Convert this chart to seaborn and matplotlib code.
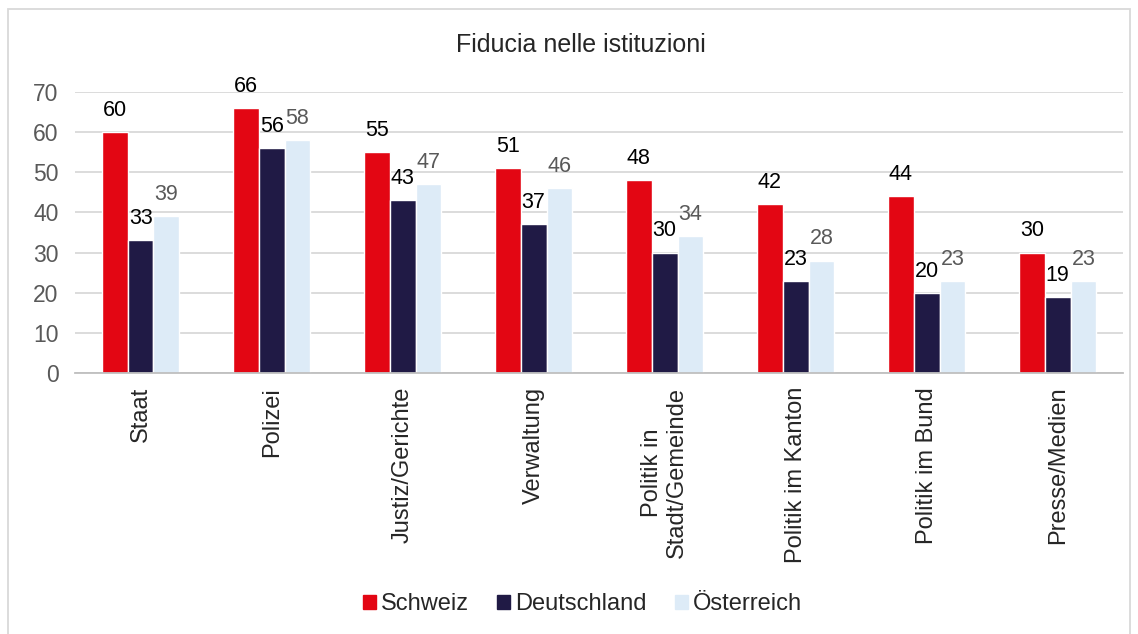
import pandas as pd
import numpy as np
import matplotlib
matplotlib.use('Agg')
import matplotlib.pyplot as plt
import seaborn as sns
from matplotlib.patches import Rectangle

# Data
categories = ['Staat', 'Polizei', 'Justiz/Gerichte', 'Verwaltung',
              'Politik in\nStadt/Gemeinde', 'Politik im Kanton',
              'Politik im Bund', 'Presse/Medien']
countries = ['Schweiz', 'Deutschland', 'Österreich']
schweiz = [60, 66, 55, 51, 48, 42, 44, 30]
deutschland = [33, 56, 43, 37, 30, 23, 20, 19]
oesterreich = [39, 58, 47, 46, 34, 28, 23, 23]

colors = ['#E30613', '#201A45', '#DDEBF7']
label_colors = ['black', 'black', '#595959']

df = pd.DataFrame({
    'Istituzione': categories * 3,
    'Paese': sum([[c] * len(categories) for c in countries], []),
    'Valore': schweiz + deutschland + oesterreich,
})

sns.set_style('white')
plt.rcParams['font.family'] = ['Liberation Sans', 'DejaVu Sans']

fig = plt.figure(figsize=(11.38, 6.34), dpi=100)
ax = fig.add_axes([0.066, 0.4117, 0.921, 0.4433])

sns.barplot(data=df, x='Istituzione', y='Valore', hue='Paese',
            palette=colors, saturation=1, width=0.59, ax=ax, legend=True)

# Data labels
for cont, col in zip(ax.containers, label_colors):
    ax.bar_label(cont, fmt='%d', padding=8, fontsize=15.5, color=col)

ax.set_ylim(0, 70)
ax.set_xlim(-0.5, len(categories) - 0.5)
ax.set_yticks(range(0, 71, 10))
ax.tick_params(axis='y', labelsize=16.5, labelcolor='#595959', length=0, pad=12)
ax.tick_params(axis='x', which='major', labelsize=17, length=0, pad=10,
               labelrotation=90)
ax.set_xticks(np.arange(-0.5, len(categories)), minor=True)
ax.tick_params(axis='x', which='minor', length=5, color='#BFBFBF', width=1.2)
ax.set_xlabel('')
ax.set_ylabel('')
ax.yaxis.grid(True, color='#D9D9D9', linewidth=1.3)
ax.set_axisbelow(True)
for s in ['top', 'right', 'left']:
    ax.spines[s].set_visible(False)
ax.spines['bottom'].set_color('#BFBFBF')
ax.spines['bottom'].set_linewidth(1.3)
for lbl in ax.get_xticklabels():
    lbl.set_va('top')
    lbl.set_ha('center')
    lbl.set_multialignment('center')

# Legend below the chart
leg = ax.get_legend()
leg.remove()
handles = [Rectangle((0, 0), 1, 1, color=c) for c in colors]
fig.legend(handles, countries, loc='center', bbox_to_anchor=(0.512, 0.047),
           ncol=3, frameon=False, fontsize=17, handlelength=0.55,
           handleheight=0.55, handletextpad=0.2, columnspacing=1.2)

fig.text(0.51, 0.929, 'Fiducia nelle istituzioni', ha='center', va='center',
         fontsize=18)

# Chart border
fig.patches.append(Rectangle((8 / 1138, -0.02), 1122 / 1138, 1.02 - 9 / 634,
                             transform=fig.transFigure, fill=False,
                             edgecolor='#D9D9D9', linewidth=1.3))

fig.savefig('out.png', dpi=100)
